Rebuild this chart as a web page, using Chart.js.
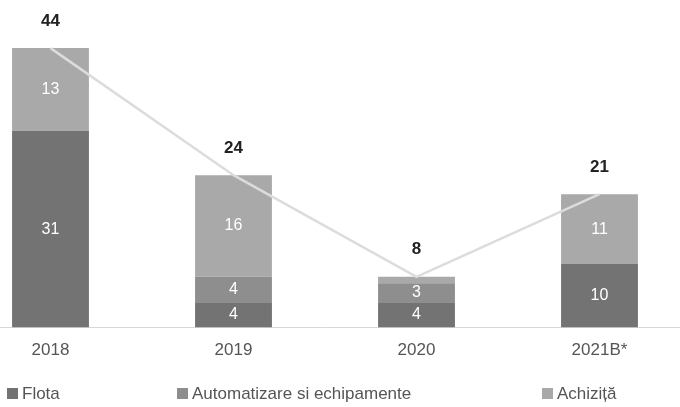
<!DOCTYPE html>
<html>
<head>
<meta charset="utf-8">
<script src="https://cdn.jsdelivr.net/npm/chart.js@4.4.0/dist/chart.umd.min.js"></script>
<style>
  html, body { margin: 0; padding: 0; background: #fff; overflow: hidden; }
  #wrap { position: absolute; left: -41px; top: 0; width: 732px; height: 407px; }
  .leg { position: absolute; top: 384px; font: 17px "Liberation Sans", sans-serif; color: #555; white-space: nowrap; line-height: 20px; }
  .leg i { display: inline-block; width: 11px; height: 11px; margin-right: 4px; vertical-align: 0px; }
</style>
</head>
<body>
<div id="wrap"><canvas id="chart"></canvas></div>
<div class="leg" style="left:7px"><i style="background:#737373"></i>Flota</div>
<div class="leg" style="left:177px"><i style="background:#8e8e8e"></i>Automatizare si echipamente</div>
<div class="leg" style="left:542px"><i style="background:#a9a9a9"></i>Achiziță</div>
<script>
const years = ['2018', '2019', '2020', '2021B*'];
const flota = [31, 4, 4, 10];
const automatizare = [0, 4, 3, 0];
const achizitie = [13, 16, 1, 11];
const totals = [44, 24, 8, 21];

// white numbers inside the segments + bold totals above
const labelPlugin = {
    id: 'labels',
    afterDatasetsDraw(chart) {
        const ctx = chart.ctx;
        ctx.save();
        ctx.textAlign = 'center';
        ctx.textBaseline = 'middle';
        ctx.font = '16px "Liberation Sans", sans-serif';
        ctx.fillStyle = '#ffffff';
        [0, 1, 2].forEach(di => {
            const meta = chart.getDatasetMeta(di);
            meta.data.forEach((bar, i) => {
                const v = chart.data.datasets[di].data[i];
                if (v < 3) return;
                ctx.fillText(v, bar.x, (bar.y + bar.base) / 2);
            });
        });
        const lineMeta = chart.getDatasetMeta(3);
        ctx.fillStyle = '#222222';
        ctx.font = 'bold 17px "Liberation Sans", sans-serif';
        lineMeta.data.forEach((pt, i) => {
            ctx.fillText(totals[i], pt.x, pt.y - 27);
        });
        ctx.restore();
    }
};

new Chart(document.getElementById('chart'), {
    type: 'bar',
    data: {
        labels: years,
        datasets: [
            { label: 'Flota', data: flota, backgroundColor: '#737373', stack: 'a', order: 2 },
            { label: 'Automatizare si echipamente', data: automatizare, backgroundColor: '#8e8e8e', stack: 'a', order: 2 },
            { label: 'Achiziță', data: achizitie, backgroundColor: '#a9a9a9', stack: 'a', order: 2 },
            {
                type: 'line', label: 'Total', data: totals, stack: 'line', order: 1,
                borderColor: '#dcdcdc', borderWidth: 2.5, pointRadius: 0, tension: 0
            }
        ]
    },
    options: {
        responsive: true,
        maintainAspectRatio: false,
        animation: false,
        layout: { padding: { top: 10, left: 0, right: 0, bottom: 33 } },
        datasets: { bar: { barPercentage: 0.42, categoryPercentage: 1 } },
        plugins: {
            tooltip: { enabled: false },
            legend: { display: false }
        },
        scales: {
            x: {
                stacked: true,
                grid: { display: false, drawTicks: false },
                border: { color: '#d8d8d8', dash: [2, 3] },
                ticks: { color: '#555555', padding: 13, font: { size: 17, family: '"Liberation Sans", sans-serif' } }
            },
            y: {
                stacked: true,
                display: false,
                min: 0,
                max: 50
            }
        }
    },
    plugins: [labelPlugin]
});
</script>
</body>
</html>
